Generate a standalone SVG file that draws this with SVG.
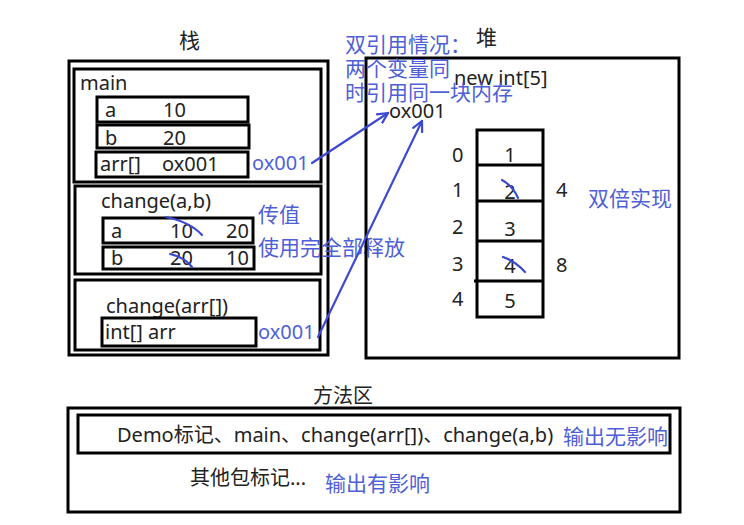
<svg xmlns="http://www.w3.org/2000/svg" width="744" height="525" viewBox="0 0 744 525">
<defs>
<style>
text{font-family:"Noto Sans","Noto Sans CJK SC",sans-serif;font-size:20px;fill:#222}
.b{fill:#4f5fd6}
.c{font-size:21px}
.bx{fill:none;stroke:#000;stroke-width:3}
.ln{fill:none;stroke:#3c4ad2;stroke-width:2.2;stroke-linecap:round}
</style>
<marker id="ah" viewBox="0 0 12 12" refX="11" refY="6" markerWidth="12" markerHeight="12" markerUnits="userSpaceOnUse" orient="auto">
<path d="M1,1 L11,6 L1,11" fill="none" stroke="#3c4ad2" stroke-width="2.2" stroke-linecap="round"/>
</marker>
</defs>
<rect width="744" height="525" fill="#fff"/>
<g id="stack">
<text x="179" y="48" style="font-size:21px">栈</text>
<rect class="bx" x="69" y="61" width="259" height="294"/>
<g id="main">
<rect class="bx" x="74" y="69" width="247" height="113"/>
<text x="80" y="90">main</text>
<rect class="bx" x="97" y="97" width="151" height="25"/>
<text x="105" y="117">a</text><text x="163" y="117">10</text>
<rect class="bx" x="97" y="125" width="152" height="23"/>
<text x="105" y="145">b</text><text x="163" y="145">20</text>
<rect class="bx" x="96" y="152" width="152" height="25"/>
<text x="100" y="171">arr[]</text><text x="162" y="171">ox001</text>
<text class="b" x="252" y="170">ox001</text>
</g>
<g id="change-ab">
<rect class="bx" x="75" y="186" width="246" height="88"/>
<text x="101" y="208">change(a,b)</text>
<rect class="bx" x="103" y="218" width="150" height="25"/>
<text x="111" y="238">a</text><text x="170" y="238">10</text><text x="226" y="238">20</text>
<rect class="bx" x="103" y="247" width="151" height="22"/>
<text x="111" y="265">b</text><text x="170" y="265">20</text><text x="226" y="265">10</text>
<text class="b c" x="258" y="222">传值</text>
<text class="b c" x="258" y="255">使用完全部释放</text>
</g>
<g id="change-arr">
<rect class="bx" x="75" y="280" width="245" height="70"/>
<text x="106" y="313">change(arr[])</text>
<rect class="bx" x="102" y="318" width="154" height="28"/>
<text x="105" y="339">int[] arr</text>
<text class="b" x="258" y="339">ox001</text>
</g>
</g>
<g id="heap">
<text x="476" y="45" style="font-size:21px">堆</text>
<rect class="bx" x="366" y="58" width="313" height="300"/>
<text x="454" y="85">new int[5]</text>
<text x="389" y="118">ox001</text>
<text class="b c" x="345" y="52">双引用情况：</text>
<text class="b c" x="345" y="76">两个变量同</text>
<text class="b c" x="345" y="100">时引用同一块内存</text>
<g id="array">
<rect class="bx" x="477" y="130" width="66" height="187"/>
<path d="M477,165H543M477,201H543M477,241H543M474,281H543" stroke="#000" stroke-width="3" fill="none"/>
<text x="452" y="162">0</text><text x="510" y="162" text-anchor="middle">1</text>
<text x="452" y="197">1</text><text x="510" y="199" text-anchor="middle">2</text>
<text x="452" y="234">2</text><text x="510" y="236" text-anchor="middle">3</text>
<text x="452" y="271">3</text><text x="510" y="273" text-anchor="middle">4</text>
<text x="452" y="306">4</text><text x="510" y="308" text-anchor="middle">5</text>
<text x="556" y="197">4</text>
<text x="556" y="272">8</text>
<text class="b c" x="588" y="206">双倍实现</text>
</g>
</g>
<g id="method-area">
<text x="313" y="403">方法区</text>
<rect class="bx" x="68" y="408" width="612" height="104"/>
<rect class="bx" x="78" y="415" width="592" height="38"/>
<text x="117" y="442">Demo标记、main、change(arr[])、change(a,b)</text>
<text class="b c" x="563" y="444">输出无影响</text>
<text x="190" y="485">其他包标记...</text>
<text class="b c" x="325" y="491">输出有影响</text>
</g>
<g id="connectors">
<path class="ln" d="M312,163 L388,113" marker-end="url(#ah)"/>
<path class="ln" d="M318,337 L422,121" marker-end="url(#ah)"/>
<path class="ln" d="M166,217 Q190,222 202,235"/>
<path class="ln" d="M170,254 Q184,257 192,267"/>
<path class="ln" d="M502,180 Q513,186 518,198"/>
<path class="ln" d="M503,257 Q515,261 525,272"/>
</g>
</svg>
